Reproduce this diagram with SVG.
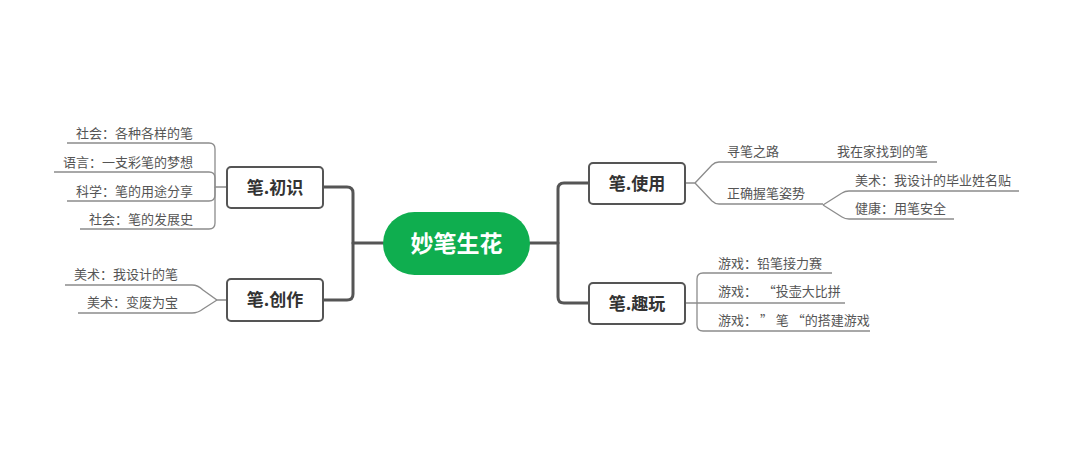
<svg xmlns="http://www.w3.org/2000/svg" width="1080" height="462" viewBox="0 0 1080 462">
<style>
.bg{fill:#ffffff}
.main{fill:none;stroke:#555555;stroke-width:3;stroke-linecap:round;stroke-linejoin:round}
.thin{fill:none;stroke:#8c8c8c;stroke-width:1.3}
.box{fill:#ffffff;stroke:#555555;stroke-width:2}
.root{fill:#0fae4f}
.rt{font-family:"Noto Sans CJK SC","Noto Sans",sans-serif;font-size:23px;font-weight:bold;fill:#ffffff;text-anchor:middle}
.bt{font-family:"Noto Sans CJK SC","Noto Sans",sans-serif;font-size:17px;font-weight:bold;fill:#333333;text-anchor:middle}
.lt{font-family:"Noto Sans CJK SC","Noto Sans",sans-serif;font-size:13px;fill:#555555}
.le{text-anchor:end}
</style>
<rect class="bg" x="0" y="0" width="1080" height="462"/>
<g id="connectors">
  <path class="main" d="M323,187 H347 Q353,187 353,193 V294 Q353,300 347,300 H323"/>
  <path class="main" d="M353,243 H383"/>
  <path class="main" d="M530,243 H558"/>
  <path class="main" d="M589,183 H564 Q558,183 558,189 V297 Q558,303 564,303 H589"/>
  <path class="thin" d="M67,143 H209 Q215,143 215,149 V187 H227"/>
  <path class="thin" d="M54,172 H209 Q215,172 215,178 V187"/>
  <path class="thin" d="M67,201 H209 Q215,201 215,195 V187"/>
  <path class="thin" d="M80,229 H209 Q215,229 215,223 V187"/>
  <path class="thin" d="M65,285 H192 Q198,285 203,290 L217,300 H227"/>
  <path class="thin" d="M78,313 H192 Q198,313 203,309 L217,300"/>
  <path class="thin" d="M685,183 H695 L712,165 Q715,162 719,162 H937"/>
  <path class="thin" d="M695,183 L712,201 Q715,204 719,204 H823"/>
  <path class="thin" d="M823,205 L842,193 Q845,191 849,191 H1019"/>
  <path class="thin" d="M823,205 L842,217 Q845,219 849,219 H954"/>
  <path class="thin" d="M832,273 H703 Q697,273 697,279 V303"/>
  <path class="thin" d="M685,303 H845"/>
  <path class="thin" d="M870,331 H703 Q697,331 697,325 V303"/>
</g>
<g id="root">
  <rect class="root" x="383" y="212" width="147" height="63" rx="31.5"/>
  <text class="rt" x="456.5" y="251.5">妙笔生花</text>
</g>
<g id="n-chushi">
  <rect class="box" x="227" y="167" width="96" height="41" rx="4"/>
  <text class="bt" x="275" y="193.5">笔.初识</text>
</g>
<g id="n-chuangzuo">
  <rect class="box" x="227" y="279" width="96" height="42" rx="4"/>
  <text class="bt" x="275" y="306">笔.创作</text>
</g>
<g id="n-shiyong">
  <rect class="box" x="589" y="163" width="96" height="41" rx="4"/>
  <text class="bt" x="637" y="189.5">笔.使用</text>
</g>
<g id="n-quwan">
  <rect class="box" x="589" y="283" width="96" height="41" rx="4"/>
  <text class="bt" x="637" y="309.5">笔.趣玩</text>
</g>
<g id="leaves-chushi">
  <text class="lt le" x="193" y="138">社会：各种各样的笔</text>
  <text class="lt le" x="193" y="167">语言：一支彩笔的梦想</text>
  <text class="lt le" x="193" y="196">科学：笔的用途分享</text>
  <text class="lt le" x="193" y="224">社会：笔的发展史</text>
</g>
<g id="leaves-chuangzuo">
  <text class="lt le" x="178" y="279">美术：我设计的笔</text>
  <text class="lt le" x="178" y="307">美术：变废为宝</text>
</g>
<g id="leaves-shiyong">
  <text class="lt" x="727" y="156">寻笔之路</text>
  <text class="lt" x="837" y="156">我在家找到的笔</text>
  <text class="lt" x="727" y="198">正确握笔姿势</text>
  <text class="lt" x="855" y="185">美术：我设计的毕业姓名贴</text>
  <text class="lt" x="855" y="213">健康：用笔安全</text>
</g>
<g id="leaves-quwan">
  <text class="lt" x="718" y="268">游戏：铅笔接力赛</text>
  <text class="lt" x="718" y="296" xml:space="preserve">游戏：  “投壶大比拼</text>
  <text class="lt" x="718" y="325" xml:space="preserve">游戏： ” 笔 “的搭建游戏</text>
</g>
</svg>
